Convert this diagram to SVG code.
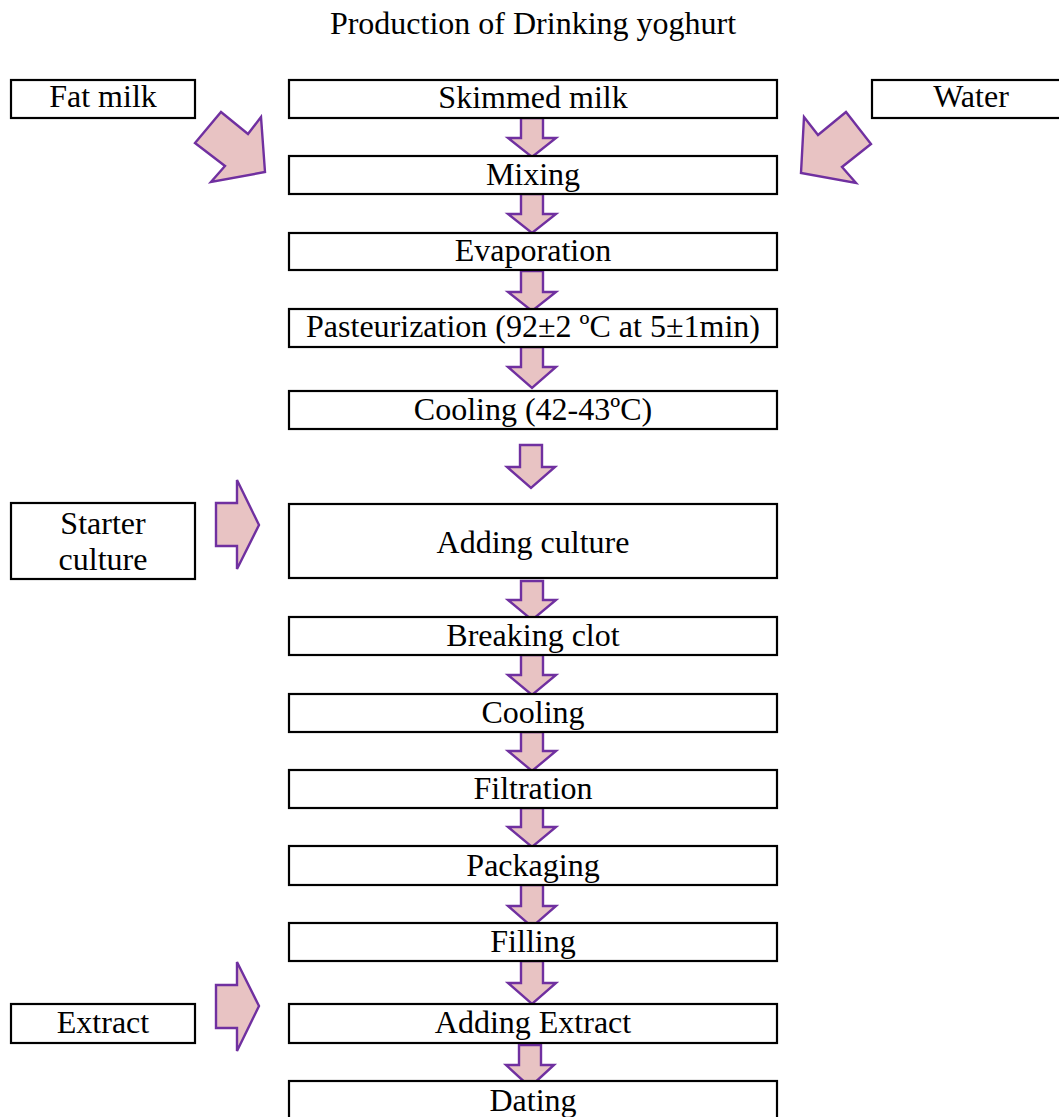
<svg xmlns="http://www.w3.org/2000/svg" width="1059" height="1117" viewBox="0 0 1059 1117">
<style>
.box{fill:#fff;stroke:#000;stroke-width:2.2}
.t{font-family:"Liberation Serif","Times New Roman",serif;font-size:32px;fill:#000;text-anchor:middle}
.ar{fill:#e8c3c3;stroke:#7030a0;stroke-width:2.4;stroke-linejoin:miter}
</style>
<rect width="1059" height="1117" fill="#fff"/>
<text class="t" x="533" y="34">Production of Drinking yoghurt</text>

<g id="connectors">
<path class="ar" d="M221,112 L248,134 L261,117 L265,172 L211,182 L225,166 L195,143 Z"/>
<path class="ar" d="M846,112 L818,135 L804,117 L801,173 L856,183 L842,167 L871,144 Z"/>
<path class="ar" d="M216,503 L237,503 L237,480 L259,525 L237,569 L237,546 L216,546 Z"/>
<path class="ar" d="M216,985 L237,985 L237,962 L259,1006 L237,1051 L237,1028 L216,1028 Z"/>
<path class="ar" d="M521,118 L543,118 L543,138 L556,138 L532,157 L508,138 L521,138 Z"/>
<path class="ar" d="M521,194 L543,194 L543,214 L556,214 L532,233 L508,214 L521,214 Z"/>
<path class="ar" d="M521,271 L543,271 L543,292 L556,292 L532,311 L508,292 L521,292 Z"/>
<path class="ar" d="M521,347 L543,347 L543,367 L556,367 L532,388 L508,367 L521,367 Z"/>
<path class="ar" d="M520,445 L542,445 L542,467 L555,467 L531,488 L507,467 L520,467 Z"/>
<path class="ar" d="M521,581 L543,581 L543,600 L556,600 L532,620 L508,600 L521,600 Z"/>
<path class="ar" d="M521,655 L543,655 L543,675 L556,675 L532,695 L508,675 L521,675 Z"/>
<path class="ar" d="M521,732 L543,732 L543,751 L556,751 L532,771 L508,751 L521,751 Z"/>
<path class="ar" d="M521,808 L543,808 L543,827 L556,827 L532,847 L508,827 L521,827 Z"/>
<path class="ar" d="M521,885 L543,885 L543,906 L556,906 L532,927 L508,906 L521,906 Z"/>
<path class="ar" d="M521,961 L543,961 L543,983 L556,983 L532,1004 L508,983 L521,983 Z"/>
<path class="ar" d="M519,1045 L541,1045 L541,1065 L554,1065 L530,1087 L506,1065 L519,1065 Z"/>
</g>

<g id="fat-milk"><rect class="box" x="11" y="80" width="184" height="38"/><text class="t" x="103" y="107">Fat milk</text></g>
<g id="water"><rect class="box" x="872" y="80" width="200" height="38"/><text class="t" x="971" y="107">Water</text></g>
<g id="starter-culture"><rect class="box" x="11" y="503" width="184" height="76"/><text class="t" x="103" y="534">Starter</text><text class="t" x="103" y="570">culture</text></g>
<g id="extract"><rect class="box" x="11" y="1004" width="184" height="39"/><text class="t" x="103" y="1033">Extract</text></g>

<g id="skimmed-milk"><rect class="box" x="289" y="80" width="488" height="38"/><text class="t" x="533" y="108">Skimmed milk</text></g>
<g id="mixing"><rect class="box" x="289" y="156" width="488" height="38"/><text class="t" x="533" y="185">Mixing</text></g>
<g id="evaporation"><rect class="box" x="289" y="233" width="488" height="37"/><text class="t" x="533" y="261">Evaporation</text></g>
<g id="pasteurization"><rect class="box" x="289" y="309" width="488" height="38"/><text class="t" x="533" y="337">Pasteurization (92±2 ºC at 5±1min)</text></g>
<g id="cooling-1"><rect class="box" x="289" y="391" width="488" height="38"/><text class="t" x="533" y="420">Cooling (42-43ºC)</text></g>
<g id="adding-culture"><rect class="box" x="289" y="504" width="488" height="74"/><text class="t" x="533" y="553">Adding culture</text></g>
<g id="breaking-clot"><rect class="box" x="289" y="617" width="488" height="38"/><text class="t" x="533" y="646">Breaking clot</text></g>
<g id="cooling-2"><rect class="box" x="289" y="694" width="488" height="38"/><text class="t" x="533" y="723">Cooling</text></g>
<g id="filtration"><rect class="box" x="289" y="770" width="488" height="38"/><text class="t" x="533" y="799">Filtration</text></g>
<g id="packaging"><rect class="box" x="289" y="846" width="488" height="39"/><text class="t" x="533" y="876">Packaging</text></g>
<g id="filling"><rect class="box" x="289" y="923" width="488" height="38"/><text class="t" x="533" y="952">Filling</text></g>
<g id="adding-extract"><rect class="box" x="289" y="1004" width="488" height="39"/><text class="t" x="533" y="1033">Adding Extract</text></g>
<g id="dating"><rect class="box" x="289" y="1081" width="488" height="45"/><text class="t" x="533" y="1111">Dating</text></g>
</svg>
